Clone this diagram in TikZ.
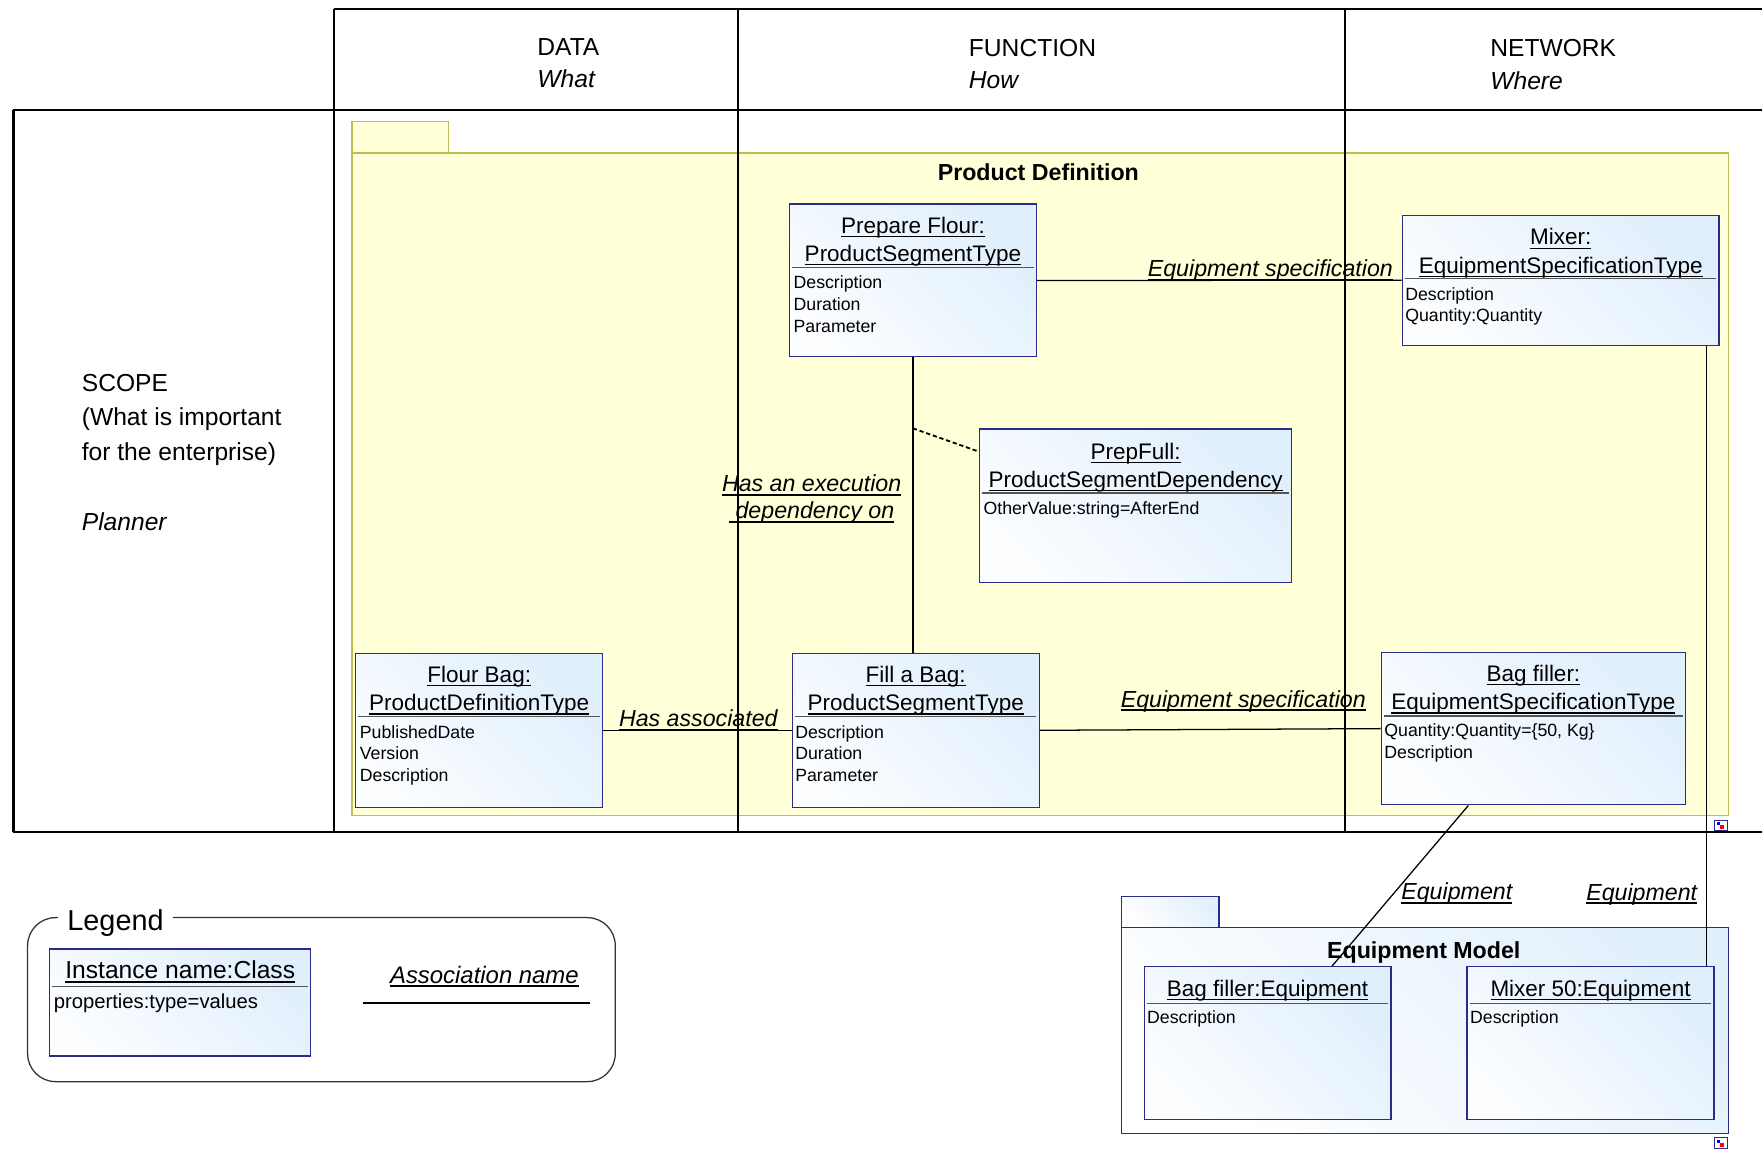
\documentclass[tikz,border=0pt]{standalone}
\usepackage{fontspec}
\setmainfont{Liberation Sans}
\usetikzlibrary{calc}
\definecolor{instedge}{HTML}{2B2B8C}
\definecolor{instblue}{HTML}{E0EFFC}
\definecolor{instwhite}{HTML}{FBFDFF}
\definecolor{pkgyellow}{HTML}{FFFFD8}
\definecolor{pkgedge}{HTML}{BDBD52}
\definecolor{pkgblue}{HTML}{E2F0FC}
\definecolor{sepgray}{HTML}{555555}
\definecolor{leggray}{HTML}{333333}
\newsavebox\ulbox
\newcommand\ulth{0.9pt}
\newcommand\uln[1]{\sbox\ulbox{#1}\leavevmode\rlap{\rule[-2.8pt]{\wd\ulbox}{\ulth}}\usebox\ulbox}
\newcommand\lcol[1]{\begin{tabular}[t]{@{}l@{}}#1\end{tabular}}
\newcommand\ccol[1]{\begin{tabular}[t]{@{}c@{}}#1\end{tabular}}

\begin{document}
\begin{tikzpicture}[x=0.2809mm, y=-0.2809mm,
  zgrid/.style={line width=1.5pt},
  zhead/.style={anchor=base west, inner sep=0, font=\fontsize{17.5}{23.3}\selectfont},
  pkgy/.style={draw=pkgedge, fill=pkgyellow, line width=0.9pt, anchor=north west, inner sep=0},
  pkgb/.style={draw=instedge, top color=pkgblue, bottom color=white, shading angle=-45, line width=0.9pt, anchor=north west, inner sep=0},
  pkgtitle/.style={anchor=base, inner sep=0, font=\fontsize{16.5}{20}\selectfont\bfseries},
  inst/.style={draw=instedge, line width=0.9pt, top color=instblue, bottom color=instwhite, shading angle=-45, anchor=north west, inner sep=0},
  ititle/.style={anchor=base, inner sep=0, font=\fontsize{16}{20}\selectfont},
  isep/.style={draw=sepgray, line width=1pt},
  iattr/.style={anchor=base west, inner sep=0, font=\fontsize{12.6}{15.4}\selectfont},
  assoc/.style={line width=0.9pt},
  lbl/.style={inner sep=0, font=\fontsize{16.5}{19.2}\selectfont\itshape\renewcommand\ulth{1.5pt}},
  icon/.style={draw=instedge, fill=white, line width=0.5pt}]
  \useasboundingbox (0,0) rectangle (1568,1022);

  % packages
  \node[pkgy, minimum width=24.2mm, minimum height=7.9mm] (pd-tab) at (312.6,107.7) {};
  \node[pkgy, minimum width=344.1mm, minimum height=165.6mm] (pd) at (312.6,135.6) {};
  \node[pkgtitle] (pd-t) at (924,161) {Product Definition};
  \node[pkgb, minimum width=24.3mm, minimum height=7.75mm] (em-tab) at (997.6,797.4) {};
  \node[pkgb, minimum width=151.7mm, minimum height=51.4mm] (em) at (997.6,825) {};
  \node[pkgtitle] (em-t) at (1267,852.6) {Equipment Model};

  % framework grid
  \draw[zgrid] (297,8) -- (1568,8) (12,98) -- (1568,98) (12,740.7) -- (1568,740.7) (12,98) -- (12,740.7);
  \draw[zgrid, line width=1.2pt] (297,8) -- (297,740.7) (657,8) -- (657,740.7) (1196.8,8) -- (1196.8,740.7);
  \node[zhead] (data) at (478,49) {\lcol{DATA\\\textit{What}}};
  \node[zhead] (func) at (862,50) {\lcol{FUNCTION\\\textit{How}}};
  \node[zhead] (net) at (1326,50.4) {\lcol{NETWORK\\\textit{Where}}};
  \node[zhead, font=\fontsize{17.5}{24.8}\selectfont] (scope) at (72.6,348)
    {\lcol{SCOPE\\(What is important\\for the enterprise)\\[24.8pt]\textit{Planner}}};

  % instances
  \node[inst, minimum width=61.7mm, minimum height=38.2mm] (prep) at (702,181) {};
  \node[ititle] (prep-t) at ($(prep.north)+(0,26.5)$) {\ccol{\uln{Prepare Flour:}\\\uln{ProductSegmentType}}};
  \draw[isep] ($(prep.north west)+(3,57)$) -- ($(prep.north east)+(-3,57)$);
  \node[iattr] (prep-a) at ($(prep.north west)+(4,76)$) {\lcol{Description\\Duration\\Parameter}};

  \node[inst, minimum width=79.2mm, minimum height=32.5mm] (mixer) at (1247.3,191) {};
  \node[ititle] (mixer-t) at ($(mixer.north)+(0,27)$) {\ccol{\uln{Mixer:}\\\uln{EquipmentSpecificationType}}};
  \draw[isep] ($(mixer.north west)+(3,57)$) -- ($(mixer.north east)+(-3,57)$);
  \node[iattr] (mixer-a) at ($(mixer.north west)+(3,76)$) {\lcol{Description\\Quantity:Quantity}};

  \node[inst, minimum width=78.1mm, minimum height=38.3mm] (pfull) at (871,381.2) {};
  \node[ititle] (pfull-t) at ($(pfull.north)+(0,27.5)$) {\ccol{\uln{PrepFull:}\\\uln{ProductSegmentDependency}}};
  \draw[isep] ($(pfull.north west)+(3,57.5)$) -- ($(pfull.north east)+(-3,57.5)$);
  \node[iattr] (pfull-a) at ($(pfull.north west)+(4,77)$) {OtherValue:string=AfterEnd};

  \node[inst, minimum width=61.7mm, minimum height=38.5mm] (fbag) at (316,580.8) {};
  \node[ititle] (fbag-t) at ($(fbag.north)+(0,26.5)$) {\ccol{\uln{Flour Bag:}\\\uln{ProductDefinitionType}}};
  \draw[isep] ($(fbag.north west)+(3,57)$) -- ($(fbag.north east)+(-3,57)$);
  \node[iattr] (fbag-a) at ($(fbag.north west)+(4,76)$) {\lcol{PublishedDate\\Version\\Description}};

  \node[inst, minimum width=61.7mm, minimum height=38.5mm] (fill) at (704.5,580.8) {};
  \node[ititle] (fill-t) at ($(fill.north)+(0,26.5)$) {\ccol{\uln{Fill a Bag:}\\\uln{ProductSegmentType}}};
  \draw[isep] ($(fill.north west)+(3,57)$) -- ($(fill.north east)+(-3,57)$);
  \node[iattr] (fill-a) at ($(fill.north west)+(3,76)$) {\lcol{Description\\Duration\\Parameter}};

  \node[inst, minimum width=76mm, minimum height=38.1mm] (bfill) at (1228.7,580) {};
  \node[ititle] (bfill-t) at ($(bfill.north)+(0,26.5)$) {\ccol{\uln{Bag filler:}\\\uln{EquipmentSpecificationType}}};
  \draw[isep] ($(bfill.north west)+(3,57)$) -- ($(bfill.north east)+(-3,57)$);
  \node[iattr] (bfill-a) at ($(bfill.north west)+(3,75.6)$) {\lcol{Quantity:Quantity=\{50, Kg\}\\Description}};

  \node[inst, minimum width=61.7mm, minimum height=38.1mm] (beq) at (1017.6,859.7) {};
  \node[ititle] (beq-t) at ($(beq.north)+(0,26.7)$) {\uln{Bag filler:Equipment}};
  \draw[isep] ($(beq.north west)+(3,33.2)$) -- ($(beq.north east)+(-3,33.2)$);
  \node[iattr] (beq-a) at ($(beq.north west)+(3,51)$) {Description};

  \node[inst, minimum width=61.7mm, minimum height=38.1mm] (m50) at (1305,859.7) {};
  \node[ititle] (m50-t) at ($(m50.north)+(0,26.7)$) {\uln{Mixer 50:Equipment}};
  \draw[isep] ($(m50.north west)+(3,33.2)$) -- ($(m50.north east)+(-3,33.2)$);
  \node[iattr] (m50-a) at ($(m50.north west)+(3,51)$) {Description};

  % associations
  \draw[assoc] (prep.east) -- node[lbl, pos=0.64, anchor=base, yshift=2.4pt] (spec1) {\uln{Equipment specification}} (mixer.west);
  \draw[assoc] (prep.south) -- node[lbl, pos=0.455, anchor=base, xshift=-72pt] (exdep)
    {\ccol{\uln{Has an execution}\\\uln{\ dependency on}}} (prep.south |- fill.north);
  \coordinate (dep) at ($(prep.south)!0.24!(prep.south |- fill.north)$);
  \draw[assoc, dash pattern=on 3pt off 2pt, line width=1.3pt] (dep) -- (pfull.161);
  \draw[assoc] (fbag.east) -- node[lbl, pos=0.505, anchor=base, yshift=2.4pt] (hasassoc) {\uln{Has associated}} (fill.west);
  \draw[assoc] (fill.east) -- node[lbl, pos=0.597, anchor=base, yshift=15.6pt] (spec2) {\uln{Equipment specification}} (bfill.west);
  \draw[assoc] ($(bfill.south west)!0.287!(bfill.south east)$) -- node[lbl, pos=0.587, anchor=base west, xshift=8.8pt] (eq1)
    {\uln{Equipment}} ($(beq.north west)!0.76!(beq.north east)$);
  \coordinate (mx) at ($(mixer.south east)+(-12,0)$);
  \draw[assoc] (mx) -- node[lbl, pos=0.894, anchor=base east, xshift=-6pt] (eq2) {\uln{Equipment}} (mx |- m50.north);

  % package icons
  \draw[icon] (1525.5,729.7) rectangle (1536.8,739.2);
  \fill[blue] (1528,731.5) rectangle (1531,734.5);
  \fill[red] (1531,734.5) rectangle (1534,737.5);
  \draw[icon] (1525.5,1012.5) rectangle (1536.8,1022);
  \fill[blue] (1528,1014.3) rectangle (1531,1017.3);
  \fill[red] (1531,1017.3) rectangle (1534,1020.3);

  % legend
  \node[draw=leggray, line width=0.9pt, rounded corners=7mm, anchor=north west, inner sep=0,
    minimum width=146.9mm, minimum height=41mm] (legend) at (24,816) {};
  \node[anchor=base west, fill=white, inner xsep=7pt, inner ysep=2pt, font=\fontsize{20.5}{24}\selectfont] (legend-t) at (51,828) {Legend};
  \node[inst, minimum width=65.3mm, minimum height=26.7mm] (linst) at (43.6,844) {};
  \node[ititle, font=\fontsize{17.5}{20}\selectfont] (linst-t) at ($(linst.north)+(0,27)$) {\uln{Instance name:Class}};
  \draw[isep] ($(linst.north west)+(3,34)$) -- ($(linst.north east)+(-3,34)$);
  \node[iattr, font=\fontsize{14.4}{17}\selectfont] (linst-a) at ($(linst.north west)+(4,53)$) {properties:type=values};
  \coordinate (as-a) at (323,892.5);
  \coordinate (as-b) at (525,892.5);
  \draw[line width=2pt] (as-a) -- node[lbl, pos=0.535, anchor=base, yshift=14pt,
    font=\fontsize{17}{20}\selectfont\itshape\renewcommand\ulth{1.3pt}] (as-t) {\uln{Association name}} (as-b);
\end{tikzpicture}
\end{document}
